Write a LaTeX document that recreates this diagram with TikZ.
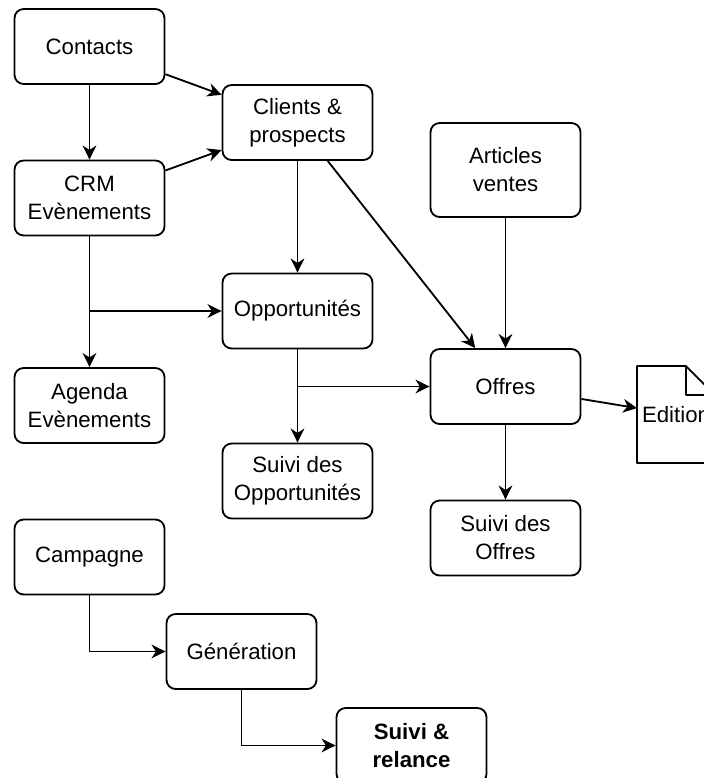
\documentclass[tikz,border=0pt]{standalone}
\usepackage{fontspec}
\setmainfont{Liberation Sans}
\usetikzlibrary{arrows.meta}
\begin{document}
\begin{tikzpicture}[x=0.025cm,y=-0.025cm,>={Stealth[length=3.5mm,width=3.4mm,inset=1.1mm]},line join=round,line width=1.3pt,font=\fontsize{15.8}{19.9}\selectfont,
	box/.style={draw,rounded corners=2.3mm,minimum width=3.75cm,minimum height=1.875cm,align=center,inner sep=0pt}]
	\useasboundingbox (0,0) rectangle (704,778);
	\path
	(89.5,46.5) node[box] (Ct) {Contacts}
	(297.5,122.5) node[box] (Cl) {Clients \&\\prospects}
	(89.5,198) node[box] (Crm) {CRM\\Evènements}
	(505.5,170) node[box,minimum height=2.35cm] (Ar) {Articles\\ventes}
	(297.5,311) node[box] (Op) {Opportunités}
	(505.5,386.5) node[box] (Of) {Offres}
	(89.5,405.5) node[box] (Ag) {Agenda\\Evènements}
	(297.5,481) node[box] (SO) {Suivi des\\Opportunités}
	(505.5,538) node[box] (SF) {Suivi des\\Offres}
	(676,414.5) node[minimum width=1.9cm,minimum height=2.375cm,inner sep=0pt] (Ed) {Edition}
	(89.5,557) node[box] (Ca) {Campagne}
	(241.5,651.5) node[box] (Ge) {Génération}
	(411.5,745.5) node[box,font=\fontsize{15.8}{19.9}\selectfont\bfseries] (Re) {Suivi \&\\relance}
	;
	\draw (Ed.north west)--([xshift=-0.725cm]Ed.north east)--([yshift=-0.725cm]Ed.north east)--(Ed.south east)--(Ed.south west)--cycle;
	\draw ([xshift=-0.725cm]Ed.north east) |- ([yshift=-0.725cm]Ed.north east);
	\draw[->] (Ct)--(Cl);
	\draw[->] (Crm)--(Cl);
	\draw[->] (Ct)--(Crm);
	\draw[->] (Crm)--(Ag);
	\draw[->] (Crm.south) |- (Op.west);
	\draw[->] (Cl)--(Op);
	\draw[->] (Cl)--(Of);
	\draw[->] (Ar)--(Of);
	\draw[->] (Op)--(SO);
	\draw[->] (Op.south) |- (Of.west);
	\draw[->] (Of)--(SF);
	\draw[->] (Of)--(Ed);
	\draw[->] (Ca.south) |- (Ge.west);
	\draw[->] (Ge.south) |- (Re.west);
\end{tikzpicture}
\end{document}
